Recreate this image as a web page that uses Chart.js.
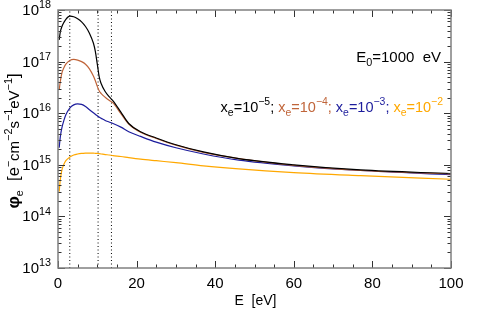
<!DOCTYPE html>
<html>
<head>
<meta charset="utf-8">
<script src="https://cdn.jsdelivr.net/npm/chart.js@4.4.0/dist/chart.umd.min.js"></script>
<style>
  html, body { margin: 0; padding: 0; background: #fff; }
</style>
</head>
<body>
<canvas id="myChart" width="485" height="323"></canvas>
<script>
// Energy grid [eV] shared by all four curves
const energy = [0.3, 0.6, 1, 1.5, 2, 3, 4, 5, 6, 7, 8, 9, 9.5, 10, 10.5, 11, 12, 13, 14, 16, 18, 21, 25, 30, 37, 46, 60, 77, 100];

// electron flux for each ionization fraction x_e
const fluxXe5 = [2.63e17, 3.80e17, 4.79e17, 5.75e17, 6.61e17, 7.59e17, 7.41e17, 6.76e17, 5.89e17, 4.79e17, 3.55e17, 2.29e17, 1.58e17, 8.91e16, 5.01e16, 3.72e16, 2.63e16, 2.09e16, 1.74e16, 1.05e16, 6.31e15, 4.37e15, 3.31e15, 2.45e15, 1.78e15, 1.32e15, 1.00e15, 7.94e14, 6.76e14];
const fluxXe4 = [2.82e16, 4.17e16, 6.03e16, 7.59e16, 8.91e16, 1.05e17, 1.10e17, 1.07e17, 1.00e17, 8.91e16, 7.24e16, 5.25e16, 4.27e16, 3.31e16, 2.69e16, 2.40e16, 2.04e16, 1.78e16, 1.58e16, 9.77e15, 6.17e15, 4.27e15, 3.24e15, 2.40e15, 1.74e15, 1.32e15, 9.77e14, 7.76e14, 6.61e14];
const fluxXe3 = [2.14e15, 3.55e15, 5.25e15, 7.24e15, 9.33e15, 1.26e16, 1.45e16, 1.51e16, 1.48e16, 1.35e16, 1.17e16, 1.02e16, 9.55e15, 8.91e15, 8.32e15, 7.94e15, 7.24e15, 6.76e15, 6.31e15, 5.37e15, 4.37e15, 3.55e15, 2.75e15, 2.14e15, 1.62e15, 1.23e15, 9.55e14, 7.76e14, 6.46e14];
const fluxXe2 = [3.02e14, 5.25e14, 7.94e14, 1.02e15, 1.20e15, 1.41e15, 1.55e15, 1.62e15, 1.66e15, 1.68e15, 1.69e15, 1.68e15, 1.67e15, 1.66e15, 1.64e15, 1.62e15, 1.58e15, 1.55e15, 1.51e15, 1.45e15, 1.38e15, 1.29e15, 1.20e15, 1.10e15, 9.55e14, 8.32e14, 7.08e14, 6.17e14, 5.25e14];

// vertical dotted markers [eV]
const markerLines = [3, 10.2, 13.6];

const xTickLabels = [0, 20, 40, 60, 80, 100];
const yDecades = [13, 14, 15, 16, 17, 18];

const seriesColors = ['#000000', '#c0653a', '#1c1c9c', '#ffa800'];
const seriesExps = ['\u22125', '\u22124', '\u22123', '\u22122'];

const FONT = '"Liberation Sans", "DejaVu Sans", sans-serif';

function toPoints(ys) {
  return energy.map((e, i) => ({ x: e, y: ys[i] }));
}

// draw a run of text pieces with sub/superscripts
function pieceFont(p, size) {
  const s = p.k === 'n' ? size * (p.scale || 1) : size * 0.72;
  return (p.b ? 'bold ' : '') + s + 'px ' + FONT;
}
function drawRich(ctx, parts, x, y, size, align) {
  let w = 0;
  parts.forEach(p => { ctx.font = pieceFont(p, size); w += ctx.measureText(p.t).width; });
  let cx = align === 'right' ? x - w : align === 'center' ? x - w / 2 : x;
  ctx.textBaseline = 'alphabetic';
  ctx.textAlign = 'left';
  parts.forEach(p => {
    ctx.font = pieceFont(p, size);
    ctx.fillStyle = p.c || '#000';
    let dy = 0;
    if (p.k === 'sup') dy = -size * 0.45;
    if (p.k === 'sub') dy = size * 0.25;
    ctx.fillText(p.t, cx, y + dy);
    cx += ctx.measureText(p.t).width;
  });
}

const idlAxes = {
  id: 'idlAxes',
  afterDraw(chart) {
    const ctx = chart.ctx;
    const a = chart.chartArea;
    const xs = chart.scales.x;
    const ys = chart.scales.y;
    ctx.save();

    // ticks pointing inward on all four sides
    ctx.strokeStyle = '#333';
    ctx.lineWidth = 1;
    ctx.beginPath();
    for (let v = 0; v <= 100; v += 5) {
      const px = Math.round(xs.getPixelForValue(v)) + 0.5;
      const len = v % 20 === 0 ? 7 : 3.5;
      ctx.moveTo(px, a.bottom); ctx.lineTo(px, a.bottom - len);
      ctx.moveTo(px, a.top); ctx.lineTo(px, a.top + len);
    }
    yDecades.forEach(d => {
      for (let m = 1; m <= 9; m++) {
        if (d === 18 && m > 1) break;
        const py = Math.round(ys.getPixelForValue(m * Math.pow(10, d))) + 0.5;
        const len = m === 1 ? 7 : 3.5;
        ctx.moveTo(a.left, py); ctx.lineTo(a.left + len, py);
        ctx.moveTo(a.right, py); ctx.lineTo(a.right - len, py);
      }
    });
    ctx.stroke();

    // frame
    ctx.strokeStyle = '#808080';
    ctx.lineWidth = 1.5;
    ctx.strokeRect(a.left, a.top, a.right - a.left, a.bottom - a.top);

    // y tick labels 10^n
    yDecades.forEach(d => {
      const py = ys.getPixelForValue(Math.pow(10, d));
      drawRich(ctx, [{ t: '10', k: 'n' }, { t: String(d), k: 'sup' }], 51, py + 5, 15, 'right');
    });

    // x tick labels
    ctx.fillStyle = '#000';
    ctx.font = '15px ' + FONT;
    ctx.textAlign = 'center';
    ctx.textBaseline = 'middle';
    xTickLabels.forEach(v => {
      ctx.fillText(String(v), xs.getPixelForValue(v), 284);
    });
    ctx.font = '14px ' + FONT;
    ctx.fillText('E  [eV]', (a.left + a.right) / 2 + 1, 301);

    // y title
    ctx.save();
    ctx.translate(19, (a.top + a.bottom) / 2 + 2);
    ctx.rotate(-Math.PI / 2);
    drawRich(ctx, [
      { t: '\u03c6', k: 'n', b: true, scale: 1.15 }, { t: 'e', k: 'sub' },
      { t: '  [e', k: 'n', scale: 1.1 }, { t: '\u2212', k: 'sup' },
      { t: 'cm', k: 'n' }, { t: '\u22122', k: 'sup' },
      { t: 's', k: 'n' }, { t: '\u22121', k: 'sup' },
      { t: 'eV', k: 'n' }, { t: '\u22121', k: 'sup' }, { t: ']', k: 'n', scale: 1.1 }
    ], 0, 0, 15, 'center');
    ctx.restore();

    // annotations
    drawRich(ctx, [
      { t: 'E', k: 'n' }, { t: '0', k: 'sub' }, { t: '=1000  eV', k: 'n' }
    ], 441, 62, 15, 'right');

    const parts = [];
    seriesExps.forEach((ex, i) => {
      const c = seriesColors[i];
      parts.push({ t: 'x', k: 'n', c }, { t: 'e', k: 'sub', c }, { t: '=10', k: 'n', c }, { t: ex, k: 'sup', c });
      if (i < seriesExps.length - 1) parts.push({ t: '; ', k: 'n', c });
    });
    drawRich(ctx, parts, 443, 112, 14.5, 'right');

    ctx.restore();
  }
};

const datasets = [fluxXe5, fluxXe4, fluxXe3, fluxXe2].map((ys, i) => ({
  data: toPoints(ys),
  borderColor: seriesColors[i],
  borderWidth: 1.2,
  pointRadius: 0,
  cubicInterpolationMode: 'monotone',
  fill: false
}));
markerLines.forEach(e => {
  datasets.push({
    data: [{ x: e, y: 1e13 }, { x: e, y: 1e18 }],
    borderColor: '#000',
    borderWidth: 1,
    borderDash: [1, 2.5],
    pointRadius: 0,
    fill: false
  });
});

const ctx = document.getElementById('myChart');
new Chart(ctx, {
  type: 'line',
  data: { datasets },
  options: {
    responsive: false,
    animation: false,
    devicePixelRatio: 1,
    layout: { padding: { top: 10, right: 34, left: 0, bottom: 0 } },
    plugins: { legend: { display: false }, tooltip: { enabled: false } },
    scales: {
      x: {
        type: 'linear', min: 0, max: 100,
        grid: { display: false }, border: { display: false },
        ticks: { display: false },
        afterFit: s => { s.height = 55; }
      },
      y: {
        type: 'logarithmic', min: 1e13, max: 1e18,
        grid: { display: false }, border: { display: false },
        ticks: { display: false },
        afterFit: s => { s.width = 58; }
      }
    }
  },
  plugins: [idlAxes]
});
</script>
</body>
</html>
